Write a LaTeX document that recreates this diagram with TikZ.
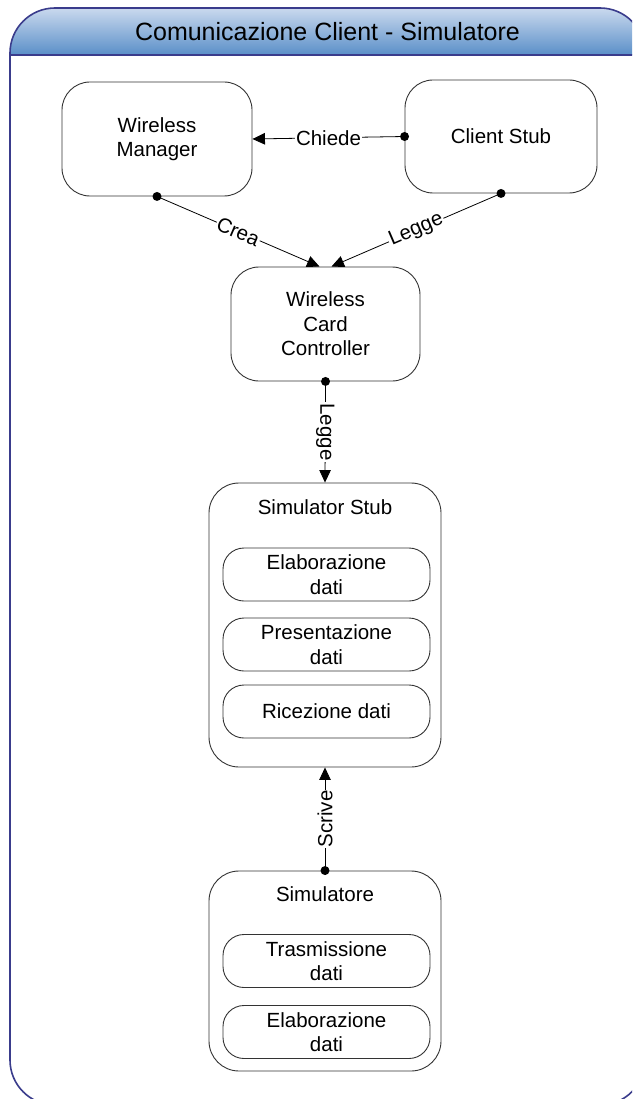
\documentclass[tikz,border=0pt]{standalone}
\usepackage{fontspec}
\setmainfont{Liberation Sans}
\usetikzlibrary{arrows.meta}
\definecolor{framenavy}{HTML}{3A3C8C}
\definecolor{headtop}{HTML}{CAD9EE}
\definecolor{headbot}{HTML}{5A8FC8}
\definecolor{boxline}{HTML}{333333}

\begin{document}
\begin{tikzpicture}[x=1pt,y=-1pt,
  txt/.style={font=\fontsize{20.5}{24.5}\selectfont, align=center},
  box/.style={txt, draw=boxline, line width=0.9pt, rounded corners=28pt, inner sep=0pt},
  sub/.style={txt, draw=boxline, line width=0.9pt, rounded corners=21pt, inner sep=0pt,
              minimum width=207pt, minimum height=53pt},
  link/.style={line width=0.8pt, -{Triangle[length=12.5pt,width=11.5pt]}},
  lbl/.style={txt, fill=white, inner sep=1pt},
  dot/.style={circle, fill=black, inner sep=0pt, minimum size=9pt}
]
% page and clipping
\useasboundingbox (0,0) rectangle (632,1099);
\clip (0,0) rectangle (632,1099);
\fill[white] (0,0) rectangle (632,1099);

% frame with shaded header band
\begin{scope}
  \clip[rounded corners=45pt] (10,8) rectangle (645,1105);
  \shade[top color=headtop, bottom color=headbot] (10,8) rectangle (645,55);
\end{scope}
\draw[framenavy, line width=1.2pt] (10,55) -- (645,55);
\draw[framenavy, line width=1.6pt, rounded corners=45pt] (10,8) rectangle (645,1105);
\node[font=\fontsize{25}{30}\selectfont] (title) at (327.5,32) {Comunicazione Client - Simulatore};

% main components
\node[box, minimum width=190pt, minimum height=114pt] (wm) at (157,139) {Wireless\\Manager};
\node[box, minimum width=192pt, minimum height=113pt] (cs) at (501,136.5) {Client Stub};
\node[box, minimum width=189pt, minimum height=114pt] (wcc) at (325.5,324) {Wireless\\Card\\Controller};

% simulator stub with its parts
\node[box, rounded corners=30pt, minimum width=232pt, minimum height=284pt] (ss) at (325,625) {};
\node[txt] (sstitle) at (325,507) {Simulator Stub};
\node[sub] (ss1) at (326.5,574.5) {Elaborazione\\dati};
\node[sub] (ss2) at (326.5,644.5) {Presentazione\\dati};
\node[sub] (ss3) at (326.5,711.5) {Ricezione dati};

% simulator with its parts
\node[box, rounded corners=30pt, minimum width=232pt, minimum height=200pt] (sim) at (325,971) {};
\node[txt] (simtitle) at (325,894) {Simulatore};
\node[sub] (sim1) at (326.5,961) {Trasmissione\\dati};
\node[sub] (sim2) at (326.5,1032) {Elaborazione\\dati};

% connectors
\draw[link] (cs.west) -- node[lbl] {Chiede} (wm.east);
\draw[link] (wm.south) -- node[lbl, sloped] {Crea} ([xshift=-6pt]wcc.north);
\draw[link] (cs.south) -- node[lbl, sloped] {Legge} ([xshift=6pt]wcc.north);
\draw[link] (wcc.south) -- node[lbl, rotate=-90] {Legge} (ss.north);
\draw[link] (sim.north) -- node[lbl, rotate=90] {Scrive} (ss.south);

% connector origins
\node[dot] (o1) at (cs.west) {};
\node[dot] (o2) at (wm.south) {};
\node[dot] (o3) at (cs.south) {};
\node[dot] (o4) at (wcc.south) {};
\node[dot] (o5) at (sim.north) {};
\end{tikzpicture}
\end{document}
